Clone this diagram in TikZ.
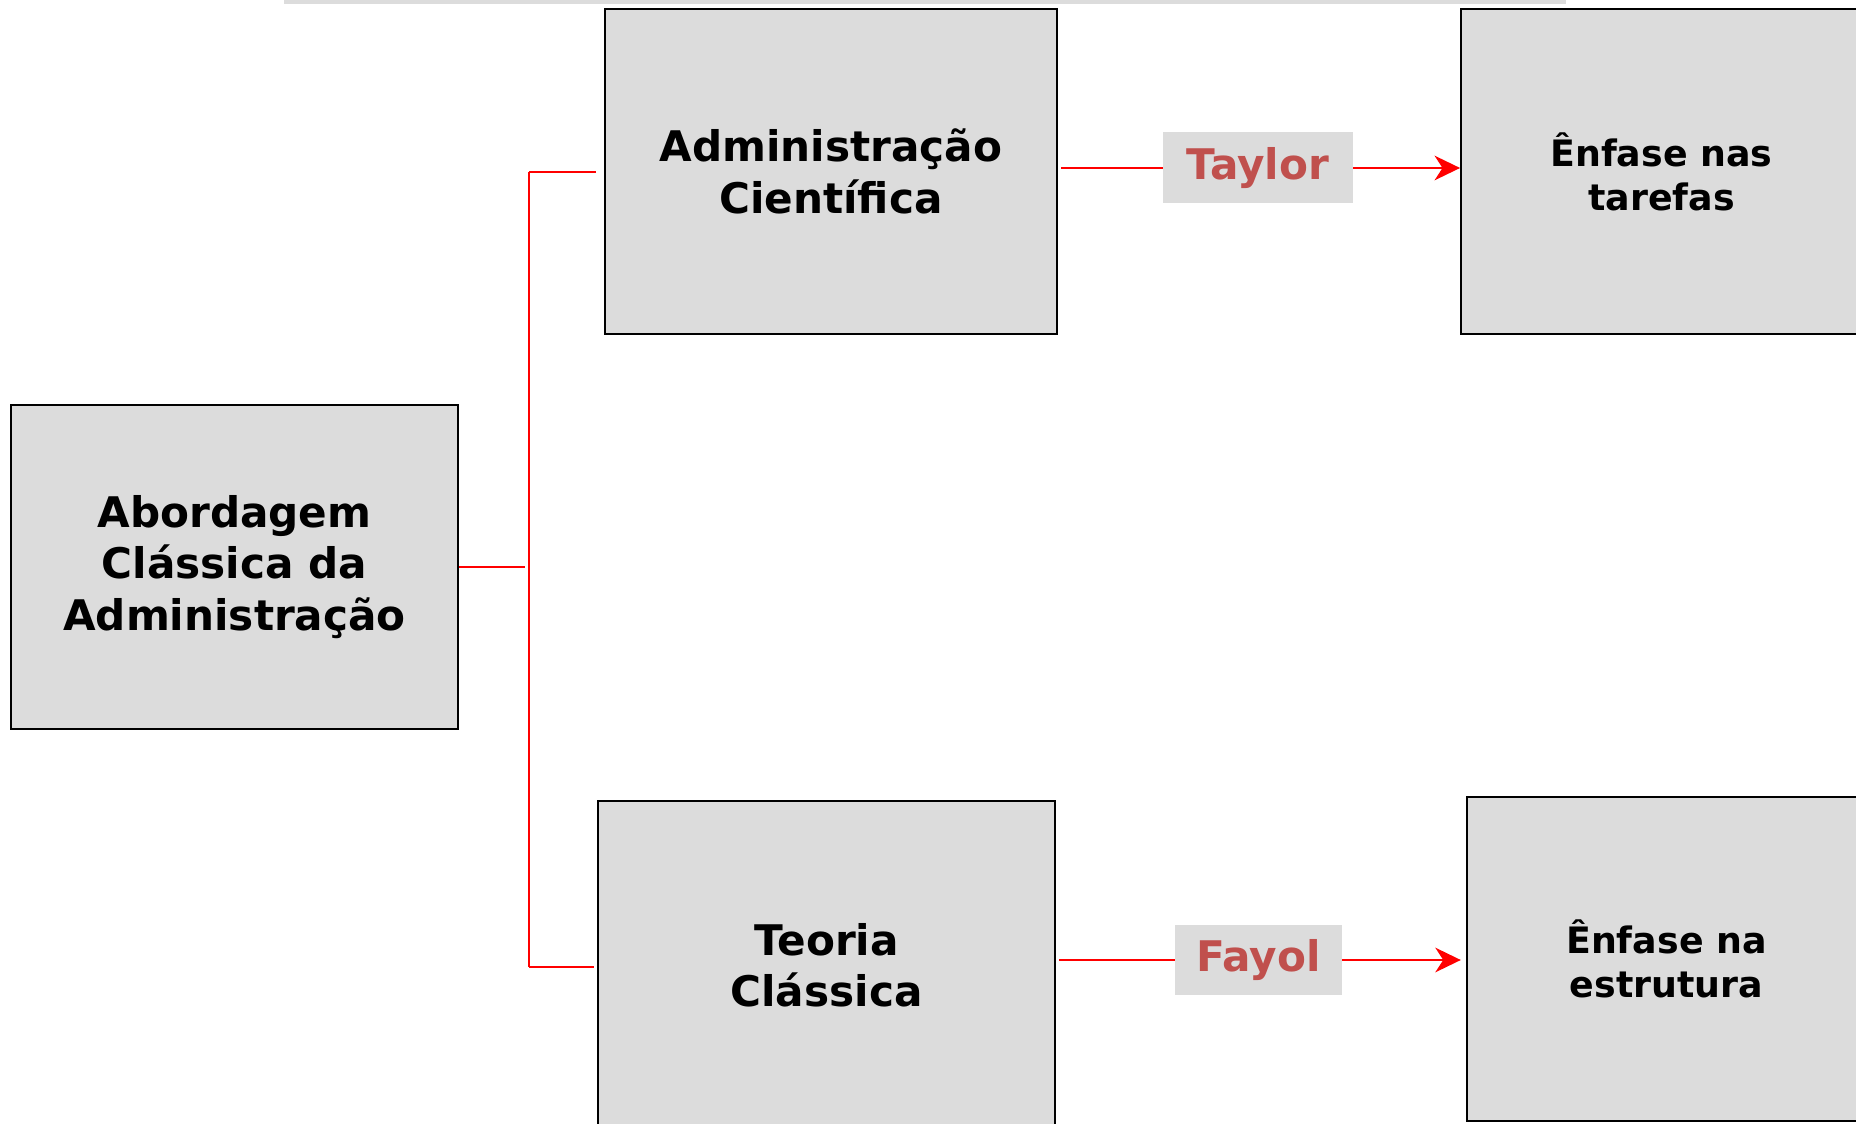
\documentclass[tikz,border=0pt]{standalone}
\usepackage{fontspec}
\setmainfont{DejaVu Sans}
\usetikzlibrary{arrows.meta}
\definecolor{cinza}{HTML}{DCDCDC}
\definecolor{tijolo}{HTML}{C0504D}

\begin{document}
\begin{tikzpicture}[x=0.02cm, y=-0.02cm,
        caixa/.style={draw=black, line width=1.1pt, fill=cinza, align=center,
                      font=\fontsize{24}{29.3}\selectfont\bfseries},
        caixamenor/.style={caixa, font=\fontsize{20.7}{25}\selectfont\bfseries},
        rotulo/.style={fill=cinza, text=tijolo, font=\fontsize{24}{29}\selectfont\bfseries},
        linha/.style={draw=red, line width=1.1pt},
        seta/.style={linha, -{Stealth[length=14.5pt, width=14pt, inset=4.5pt]}}]
    \useasboundingbox (0,0) rectangle (1856,1124);
    \clip (0,0) rectangle (1856,1124);
    \fill[cinza] (284,0) rectangle (1566,4);

    \node[caixa, minimum width=8.94cm, minimum height=6.48cm] (abordagem) at (234.5,567) {Abordagem\\Clássica da\\Administração};
    \node[caixa, minimum width=9.04cm, minimum height=6.5cm] (cientifica) at (831,171.5) {Administração\\Científica};
    \node[caixa, minimum width=9.14cm, minimum height=6.58cm] (classica) at (826.5,965.5) {Teoria\\Clássica};
    \node[caixamenor, minimum width=8.02cm, minimum height=6.5cm] (tarefas) at (1661.5,171.5) {Ênfase nas\\tarefas};
    \node[caixamenor, minimum width=7.98cm, minimum height=6.48cm] (estrutura) at (1666.5,959) {Ênfase na\\estrutura};
    \node[rotulo, minimum width=3.8cm, minimum height=1.42cm] (taylor) at (1258,168) {Taylor};
    \node[rotulo, minimum width=3.34cm, minimum height=1.4cm] (fayol) at (1258.5,960) {Fayol};

    \coordinate (topo) at (529,172);
    \coordinate (base) at (529,967);
    \draw[linha] (topo) -- (base);
    \draw[linha, shorten >=4.5pt] (topo) -- (topo -| cientifica.west);
    \draw[linha, shorten >=2pt] (base) -- (base -| classica.west);
    \draw[linha, shorten >=2.3pt] (abordagem.east) -- (abordagem.east -| topo);

    \draw[linha, shorten <=2pt] (cientifica.east |- taylor) -- (taylor.west);
    \draw[seta] (taylor.east) -- (taylor.east -| tarefas.west);
    \draw[linha, shorten <=2pt] (classica.east |- fayol) -- (fayol.west);
    \draw[seta, shorten >=3pt] (fayol.east) -- (fayol.east -| estrutura.west);
\end{tikzpicture}
\end{document}
